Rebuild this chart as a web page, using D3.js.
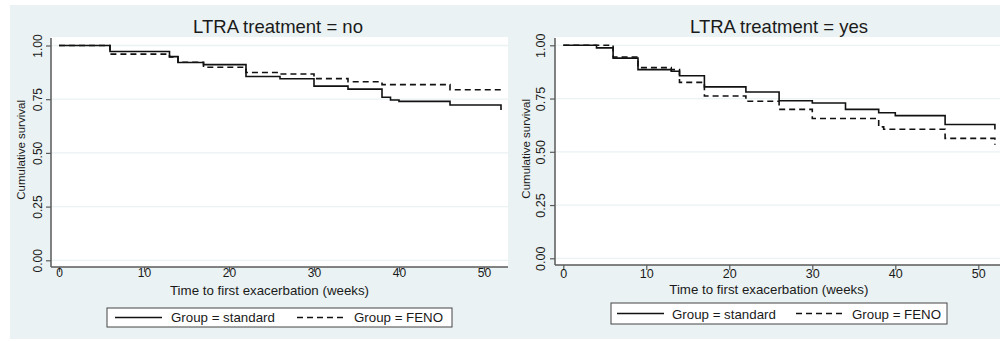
<!DOCTYPE html>
<html>
<head>
<meta charset="utf-8">
<script src="https://cdn.jsdelivr.net/npm/d3@7"></script>
<style>
  html, body { margin: 0; padding: 0; background: #ffffff; }
  svg { display: block; font-family: "Liberation Sans", Arial, sans-serif; }
</style>
</head>
<body>
<svg id="chart" width="1000" height="341"></svg>
<script>
// ---- data ----
const panelTitles = ["LTRA treatment = no", "LTRA treatment = yes"];
const seriesNames = ["Group = standard", "Group = FENO"];
const xTicks = [0, 10, 20, 30, 40, 50];
const yTicks = [0, 0.25, 0.5, 0.75, 1];
const xTitle = "Time to first exacerbation (weeks)";
const yTitle = "Cumulative survival";

// LTRA = no
const noStdTime = [0, 6, 13, 14, 17, 22, 26, 30, 34, 38, 39, 40, 46, 52];
const noStdSurv = [1, 0.972, 0.948, 0.921, 0.911, 0.856, 0.845, 0.811, 0.797, 0.759, 0.746, 0.740, 0.723, 0.700];
const noFenoTime = [0, 6, 13, 14, 17, 22, 26, 30, 34, 38, 46, 52];
const noFenoSurv = [1, 0.960, 0.947, 0.922, 0.899, 0.874, 0.867, 0.846, 0.831, 0.818, 0.794, 0.776];

// LTRA = yes
const yesStdTime = [0, 4, 6, 9, 13, 14, 17, 22, 26, 30, 34, 38, 40, 46, 52];
const yesStdSurv = [1, 0.988, 0.940, 0.886, 0.878, 0.857, 0.805, 0.781, 0.740, 0.729, 0.699, 0.683, 0.670, 0.628, 0.605];
const yesFenoTime = [0, 6, 9, 13, 14, 17, 22, 26, 30, 38, 38.6, 46, 52];
const yesFenoSurv = [1, 0.945, 0.895, 0.886, 0.826, 0.762, 0.737, 0.699, 0.656, 0.617, 0.606, 0.563, 0.533];

const svg = d3.select("#chart");
const BG = "#eaf2f3";
const AXIS = "#5a5a5a";

svg.append("rect").attr("x", 10).attr("y", 5).attr("width", 990).attr("height", 334).attr("fill", BG);

const panels = [
  {
    title: panelTitles[0],
    std: noStdTime.map((t, i) => [t, noStdSurv[i]]),
    feno: noFenoTime.map((t, i) => [t, noFenoSurv[i]]),
    plot: {x0: 51, x1: 508, y0: 37, y1: 267},
    xr: [59, 484], yr: [260.3, 45.5],
    titleX: 278, titleY: 33, tickFs: 12, xLabelY: 277, xTitleY: 295, yLabelX: 42, yTitleX: 25,
    legend: {x: 107, y: 308, w: 345, h: 19, l1: [115, 162], t1: 171, l2: [297, 343], t2: 354, ly: 317.5, ty: 322}
  },
  {
    title: panelTitles[1],
    std: yesStdTime.map((t, i) => [t, yesStdSurv[i]]),
    feno: yesFenoTime.map((t, i) => [t, yesFenoSurv[i]]),
    plot: {x0: 555, x1: 1000, y0: 37, y1: 265},
    xr: [563.3, 978.3], yr: [258.3, 45.3],
    titleX: 779, titleY: 33, tickFs: 12.5, xLabelY: 278, xTitleY: 294, yLabelX: 545, yTitleX: 530,
    legend: {x: 611, y: 303, w: 336, h: 21, l1: [617, 664], t1: 672, l2: [796, 843], t2: 852, ly: 313.5, ty: 319}
  }
];

panels.forEach(p => {
  const g = svg.append("g");
  const x = d3.scaleLinear().domain([0, 50]).range(p.xr);
  const y = d3.scaleLinear().domain([0, 1]).range(p.yr);

  // plot region
  g.append("rect").attr("x", p.plot.x0).attr("y", p.plot.y0)
    .attr("width", p.plot.x1 - p.plot.x0).attr("height", p.plot.y1 - p.plot.y0)
    .attr("fill", "#ffffff");

  // grid
  g.selectAll(".grid").data(yTicks).enter().append("line")
    .attr("x1", p.plot.x0).attr("x2", p.plot.x1)
    .attr("y1", d => y(d)).attr("y2", d => y(d))
    .attr("stroke", BG).attr("stroke-width", 1.3);

  // title
  g.append("text").attr("x", p.titleX).attr("y", p.titleY)
    .attr("text-anchor", "middle").attr("font-size", 18.5).attr("fill", "#1a1a1a")
    .text(p.title);

  // y axis
  const yAxis = g.append("g").attr("transform", `translate(${p.plot.x0},0)`)
    .call(d3.axisLeft(y).tickValues(yTicks).tickSize(5).tickSizeOuter(0).tickFormat(d3.format(".2f")));
  yAxis.select(".domain").remove();
  yAxis.selectAll(".tick line").attr("stroke", AXIS).attr("stroke-width", 1.2);
  yAxis.selectAll(".tick text")
    .attr("font-size", p.tickFs).attr("font-family", "Liberation Sans, Arial, sans-serif")
    .attr("fill", "#1a1a1a")
    .attr("x", null).attr("dy", null)
    .attr("text-anchor", "middle")
    .attr("transform", `translate(${p.yLabelX - p.plot.x0},0) rotate(-90)`);
  g.append("line").attr("x1", p.plot.x0).attr("x2", p.plot.x0)
    .attr("y1", p.plot.y0 + 1).attr("y2", p.plot.y1)
    .attr("stroke", AXIS).attr("stroke-width", 1.5);

  // x axis
  const xAxis = g.append("g").attr("transform", `translate(0,${p.plot.y1})`)
    .call(d3.axisBottom(x).tickValues(xTicks).tickSize(5).tickSizeOuter(0).tickFormat(d3.format("d")));
  xAxis.select(".domain").remove();
  xAxis.selectAll(".tick line").attr("stroke", AXIS).attr("stroke-width", 1.2);
  xAxis.selectAll(".tick text")
    .attr("font-size", p.tickFs).attr("font-family", "Liberation Sans, Arial, sans-serif")
    .attr("fill", "#1a1a1a").attr("dy", null)
    .attr("y", p.xLabelY - p.plot.y1);
  g.append("line").attr("x1", p.plot.x0).attr("x2", p.plot.x1)
    .attr("y1", p.plot.y1).attr("y2", p.plot.y1)
    .attr("stroke", AXIS).attr("stroke-width", 1.5);

  // axis titles
  g.append("text").attr("x", (p.xr[0] + p.xr[1]) / 2 - 2).attr("y", p.xTitleY)
    .attr("text-anchor", "middle").attr("font-size", 13.3).attr("fill", "#1a1a1a")
    .text(xTitle);
  g.append("text")
    .attr("transform", `translate(${p.yTitleX},${(p.yr[0] + p.yr[1]) / 2 - 3}) rotate(-90)`)
    .attr("text-anchor", "middle").attr("font-size", 11.5).attr("fill", "#1a1a1a")
    .text(yTitle);

  // curves
  const line = d3.line().x(d => x(d[0])).y(d => y(d[1])).curve(d3.curveStepAfter);
  g.append("path").attr("d", line(p.feno)).attr("fill", "none")
    .attr("stroke", "#111").attr("stroke-width", 1.6).attr("stroke-dasharray", "6,4");
  g.append("path").attr("d", line(p.std)).attr("fill", "none")
    .attr("stroke", "#111").attr("stroke-width", 1.6);

  // legend
  const L = p.legend;
  g.append("rect").attr("x", L.x).attr("y", L.y).attr("width", L.w).attr("height", L.h)
    .attr("fill", "#ffffff").attr("stroke", "#444").attr("stroke-width", 1);
  g.append("line").attr("x1", L.l1[0]).attr("x2", L.l1[1]).attr("y1", L.ly).attr("y2", L.ly)
    .attr("stroke", "#111").attr("stroke-width", 1.6);
  g.append("text").attr("x", L.t1).attr("y", L.ty).attr("font-size", 13.3).attr("fill", "#1a1a1a")
    .text(seriesNames[0]);
  g.append("line").attr("x1", L.l2[0]).attr("x2", L.l2[1]).attr("y1", L.ly).attr("y2", L.ly)
    .attr("stroke", "#111").attr("stroke-width", 1.6).attr("stroke-dasharray", "6,4");
  g.append("text").attr("x", L.t2).attr("y", L.ty).attr("font-size", 13.3).attr("fill", "#1a1a1a")
    .text(seriesNames[1]);
});
</script>
</body>
</html>
